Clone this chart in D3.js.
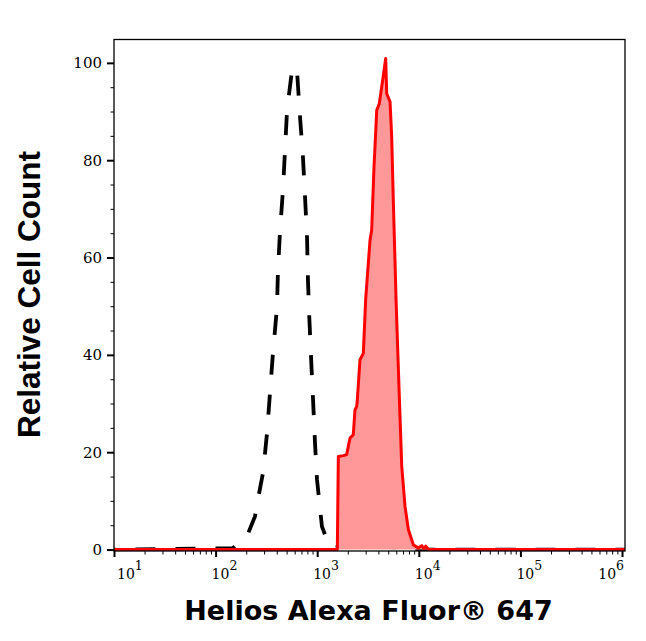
<!DOCTYPE html>
<html>
<head>
<meta charset="utf-8">
<script src="https://cdn.jsdelivr.net/npm/d3@7"></script>
<style>
	body { margin: 0; background: #fff; }
	.tick text { font-family: "DejaVu Serif", serif; fill: #000; }
	.label { font-weight: bold; fill: #000; }
</style>
</head>
<body>
<script>
// isotype control (black dashed) - fluorescence vs relative count
var isoX = [10, 148, 170, 191, 204, 244, 261, 293, 321, 343, 367, 402, 411, 431, 460, 482, 505, 565, 598,
	632, 678, 724, 759, 794, 811, 830, 869, 910, 951, 995, 1114, 1337, 1600, 2200, 3200, 5000, 8000, 10000, 1.07e6];
var isoY = [0, 0.3, 1.5, 2.2, 2.8, 6.8, 10.3, 15.8, 24, 32.2, 40.4, 49.8, 57.4, 65.6, 73.8, 82, 90.3, 98.5, 99.3,
	98.5, 88.8, 80.6, 72.4, 64.2, 55.4, 49.2, 39.6, 30.8, 21.9, 14.4, 4.7, 0.4, 0.5, 0.6, 0.6, 0.5, 0.4, 0, 0];

// Helios stained (red filled)
var stainX = [10, 1578, 1614, 1807, 1950, 2023, 2104, 2265, 2355, 2449, 2483, 2636, 2844, 3000, 3311, 3436,
	3622, 3855, 4083, 4477, 4721, 4831, 5212, 5408, 5610, 5970, 6281, 6531, 6792, 7311, 7889, 8831, 9886,
	10700, 11200, 11700, 12500, 1.07e6];
var stainY = [0, 0, 19.1, 19.3, 19.5, 21.2, 22.9, 23.6, 28.7, 29.4, 30.8, 39, 40.3, 51.4, 63.6, 65.6,
	78.6, 90.3, 91.6, 97.4, 100.9, 93.7, 92, 84.8, 71.8, 51.4, 37.6, 27.3, 17.1, 8.9, 4.1, 1.0, 0.3,
	0.8, 0.2, 0.7, 0, 0];

var xMajor = [1e1, 1e2, 1e3, 1e4, 1e5, 1e6];
var xExp = ["1", "2", "3", "4", "5", "6"];
var yMajor = [0, 20, 40, 60, 80, 100];

var allWidth = 646, allHeight = 641,
	pLeft = 114, pRight = 625, pTop = 39.5, pBottom = 551;

var x = d3.scaleLog().domain([10, 1.07e6]).range([pLeft, pRight]);
var y = d3.scaleLinear().domain([-0.3, 104.8]).range([pBottom, pTop]);

var xMinor = [];
for (var k = 1; k <= 5; k++) for (var m = 2; m <= 9; m++) xMinor.push(m * Math.pow(10, k));
var yMinor = d3.range(5, 101, 5).filter(function(v) { return v % 20 != 0; });

var svg = d3.select("body").append("svg")
	.attr("width", allWidth)
	.attr("height", allHeight);

svg.append("clipPath").attr("id", "plot")
	.append("rect")
	.attr("x", pLeft).attr("y", pTop)
	.attr("width", pRight - pLeft).attr("height", pBottom - pTop);

var iso = isoX.map(function(v, i) { return [v, isoY[i]]; });
var stain = stainX.map(function(v, i) { return [v, stainY[i]]; });

var line = d3.line()
	.x(function(d) { return x(d[0]); })
	.y(function(d) { return y(d[1]); });

var area = d3.area()
	.x(function(d) { return x(d[0]); })
	.y0(y(0))
	.y1(function(d) { return y(d[1]); });

var g = svg.append("g").attr("clip-path", "url(#plot)");

// put a dash gap right on the isotype apex
var peakIdx = isoY.indexOf(d3.max(isoY));
var tmp = g.append("path").attr("d", line(iso.slice(0, peakIdx + 1)));
var toPeak = tmp.node().getTotalLength();
tmp.remove();
var dashOff = ((30 - toPeak) % 40 + 40) % 40;

g.append("path")
	.datum(iso)
	.attr("d", line)
	.attr("fill", "none")
	.attr("stroke", "#000")
	.attr("stroke-width", 3.8)
	.attr("stroke-dasharray", "20,20")
	.attr("stroke-dashoffset", dashOff);

g.append("path")
	.datum(stain)
	.attr("d", area)
	.attr("fill", "#ff9999");

g.append("path")
	.datum(stain)
	.attr("d", line)
	.attr("fill", "none")
	.attr("stroke", "#ff0000")
	.attr("stroke-width", 3)
	.attr("stroke-linejoin", "round");

//axes
var gY = svg.append("g")
	.attr("transform", "translate(" + pLeft + ",0)")
	.call(d3.axisLeft(y).tickValues(yMajor).tickSize(7).tickPadding(5));
gY.select(".domain").remove();
gY.selectAll("line").attr("stroke-width", 2);
gY.selectAll("text").style("font-size", "15px");

var gYm = svg.append("g")
	.attr("transform", "translate(" + pLeft + ",0)")
	.call(d3.axisLeft(y).tickValues(yMinor).tickSize(3.5).tickFormat(""));
gYm.select(".domain").remove();

var gX = svg.append("g")
	.attr("transform", "translate(0," + pBottom + ")")
	.call(d3.axisBottom(x).tickValues(xMajor).tickSize(6).tickFormat(""));
gX.select(".domain").remove();
gX.selectAll("line").attr("stroke-width", 2);

var gXm = svg.append("g")
	.attr("transform", "translate(0," + pBottom + ")")
	.call(d3.axisBottom(x).tickValues(xMinor).tickSize(3.5).tickFormat(""));
gXm.select(".domain").remove();

// frame
svg.append("rect")
	.attr("x", pLeft).attr("y", pTop)
	.attr("width", pRight - pLeft).attr("height", pBottom - pTop)
	.attr("fill", "none")
	.attr("stroke", "#000")
	.attr("stroke-width", 1.3);

// 10^n labels
var xl = svg.append("g").attr("class", "tick");
xMajor.forEach(function(v, i) {
	var px = x(v) - 4, anchor = "start";
	if (i == 0) px = pLeft + 3;
	if (i == xMajor.length - 1) { px = pRight - 1; anchor = "end"; }
	var t = xl.append("text")
		.attr("x", px)
		.attr("y", 579)
		.style("text-anchor", anchor)
		.style("font-size", "14px");
	t.append("tspan").text("10");
	t.append("tspan").attr("dy", -9).style("font-size", "12.5px").text(xExp[i]);
});

//axes labels
svg.append("text")
	.attr("class", "label")
	.attr("x", (pLeft + pRight) / 2 - 1)
	.attr("y", 620)
	.style("text-anchor", "middle")
	.style("font-family", "'DejaVu Sans', sans-serif")
	.style("font-size", "27px")
	.text("Helios Alexa Fluor® 647");

svg.append("text")
	.attr("class", "label")
	.attr("transform", "rotate(-90)")
	.attr("x", -294.5)
	.attr("y", 40)
	.style("text-anchor", "middle")
	.style("font-family", "'Liberation Sans', Arial, sans-serif")
	.style("font-size", "31.5px")
	.text("Relative Cell Count");
</script>
</body>
</html>
